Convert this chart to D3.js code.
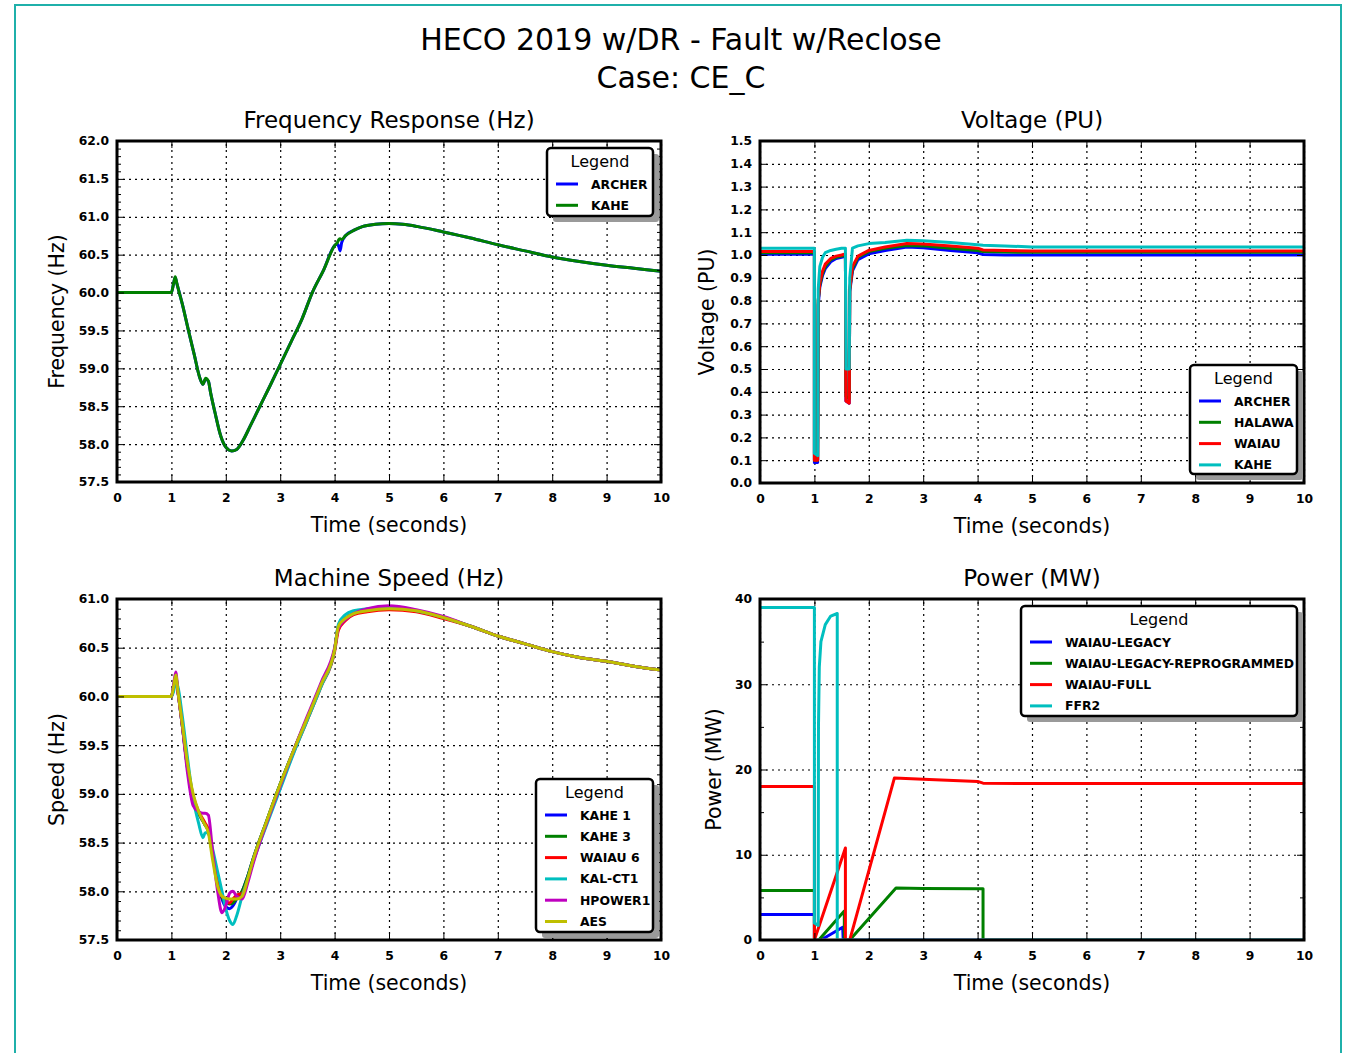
<!DOCTYPE html>
<html>
<head>
<meta charset="utf-8">
<script src="https://cdnjs.cloudflare.com/ajax/libs/d3/7.8.5/d3.min.js"></script>
<style>
body { margin: 0; background: #fff; }
text { font-family: "DejaVu Sans", sans-serif; fill: #000; }
.tick text { font-weight: bold; font-size: 12.3px; }
</style>
</head>
<body>
<svg id="chart" width="1347" height="1053"></svg>
<script>
// ---- data ----
var xTicks = [0, 1, 2, 3, 4, 5, 6, 7, 8, 9, 10];

// Frequency response (Hz)
var freqTime = [0, 1.0, 1.04, 1.07, 1.1, 1.2, 1.31, 1.42, 1.52, 1.58, 1.63, 1.68, 1.72, 1.8, 1.91, 2.0, 2.11, 2.2, 2.31, 2.45, 2.6, 2.8, 3.0, 3.2, 3.4, 3.59, 3.8, 4.0, 4.05, 4.08, 4.1, 4.13, 4.2, 4.35, 4.51, 4.75, 5.0, 5.25, 5.53, 6.0, 6.5, 7.0, 7.5, 8.0, 8.5, 9.0, 9.5, 10];
var freqArcher = [60, 60, 60.12, 60.2, 60.12, 59.85, 59.51, 59.18, 58.88, 58.79, 58.86, 58.83, 58.68, 58.42, 58.1, 57.96, 57.91, 57.93, 58.04, 58.24, 58.46, 58.75, 59.05, 59.35, 59.65, 60.0, 60.3, 60.62, 60.64, 60.6, 60.55, 60.66, 60.75, 60.82, 60.87, 60.9, 60.91, 60.9, 60.87, 60.8, 60.72, 60.63, 60.55, 60.47, 60.41, 60.36, 60.32, 60.28];
var freqKahe = [60, 60, 60.12, 60.21, 60.12, 59.85, 59.51, 59.18, 58.88, 58.79, 58.87, 58.83, 58.68, 58.42, 58.1, 57.96, 57.91, 57.93, 58.04, 58.24, 58.46, 58.75, 59.05, 59.35, 59.65, 60.0, 60.3, 60.62, 60.66, 60.7, 60.71, 60.7, 60.75, 60.82, 60.87, 60.9, 60.91, 60.9, 60.87, 60.8, 60.72, 60.63, 60.55, 60.47, 60.41, 60.36, 60.32, 60.28];
var freqTicks = [57.5, 58.0, 58.5, 59.0, 59.5, 60.0, 60.5, 61.0, 61.5, 62.0];

// Voltage (PU)
var voltTime = [0, 1.0, 1.0, 1.06, 1.07, 1.1, 1.15, 1.2, 1.3, 1.4, 1.5, 1.57, 1.58, 1.64, 1.65, 1.7, 1.8, 2.0, 2.3, 2.7, 3.0, 3.5, 4.0, 4.1, 4.5, 5.0, 6.0, 8.0, 10];
var voltArcher = [1.003, 1.003, 0.09, 0.09, 0.78, 0.86, 0.91, 0.94, 0.97, 0.985, 0.99, 0.995, 0.36, 0.35, 0.84, 0.93, 0.98, 1.005, 1.02, 1.035, 1.032, 1.02, 1.01, 1.002, 1.0, 1.0, 1.0, 1.0, 1.0];
var voltHalawa = [1.01, 1.01, 0.1, 0.1, 0.8, 0.87, 0.92, 0.95, 0.98, 0.99, 0.995, 1.0, 0.38, 0.37, 0.85, 0.94, 0.99, 1.015, 1.03, 1.042, 1.04, 1.03, 1.02, 1.015, 1.013, 1.012, 1.012, 1.012, 1.012];
var voltWaiau = [1.015, 1.015, 0.1, 0.1, 0.8, 0.88, 0.93, 0.96, 0.985, 0.995, 1.0, 1.005, 0.36, 0.35, 0.85, 0.95, 0.995, 1.02, 1.035, 1.05, 1.048, 1.04, 1.03, 1.022, 1.02, 1.018, 1.018, 1.018, 1.018];
var voltKahe = [1.03, 1.03, 0.13, 0.12, 0.85, 0.95, 0.99, 1.01, 1.02, 1.025, 1.03, 1.03, 0.5, 0.5, 0.9, 1.03, 1.04, 1.05, 1.055, 1.065, 1.062, 1.055, 1.045, 1.043, 1.04, 1.035, 1.035, 1.035, 1.035];
var voltTicks = [0.0, 0.1, 0.2, 0.3, 0.4, 0.5, 0.6, 0.7, 0.8, 0.9, 1.0, 1.1, 1.2, 1.3, 1.4, 1.5];

// Machine speed (Hz)
var speedTime = [0, 1.0, 1.04, 1.08, 1.12, 1.2, 1.3, 1.4, 1.5, 1.58, 1.62, 1.68, 1.75, 1.85, 1.93, 2.0, 2.07, 2.13, 2.2, 2.3, 2.4, 2.5, 2.75, 3.0, 3.25, 3.5, 3.75, 4.0, 4.07, 4.2, 4.35, 4.6, 5.0, 5.5, 6.0, 6.5, 7.0, 7.5, 8.0, 8.5, 9.0, 9.5, 10];
var speedKahe1 = [60, 60, 60.1, 60.2, 60.05, 59.7, 59.25, 58.95, 58.8, 58.72, 58.68, 58.62, 58.4, 58.1, 57.92, 57.84, 57.82, 57.85, 57.92, 58.0, 58.15, 58.33, 58.72, 59.1, 59.45, 59.78, 60.12, 60.48, 60.72, 60.8, 60.85, 60.88, 60.91, 60.88, 60.81, 60.72, 60.62, 60.54, 60.46, 60.4, 60.36, 60.31, 60.27];
var speedKahe3 = [60, 60, 60.1, 60.2, 60.05, 59.7, 59.25, 58.95, 58.8, 58.72, 58.68, 58.62, 58.4, 58.1, 57.94, 57.88, 57.87, 57.88, 57.93, 58.0, 58.15, 58.33, 58.72, 59.1, 59.45, 59.78, 60.12, 60.48, 60.72, 60.8, 60.85, 60.88, 60.91, 60.88, 60.81, 60.72, 60.62, 60.54, 60.46, 60.4, 60.36, 60.31, 60.27];
var speedWaiau6 = [60, 60, 60.08, 60.18, 60.05, 59.72, 59.28, 58.98, 58.82, 58.74, 58.7, 58.63, 58.42, 58.12, 57.95, 57.9, 57.88, 57.92, 57.96, 57.98, 58.12, 58.3, 58.7, 59.08, 59.43, 59.76, 60.1, 60.46, 60.68, 60.78, 60.84, 60.87, 60.89, 60.87, 60.8, 60.72, 60.62, 60.54, 60.46, 60.4, 60.36, 60.31, 60.27];
var speedKalCt1 = [60, 60, 60.05, 60.15, 60.1, 59.8, 59.35, 58.95, 58.7, 58.55, 58.6, 58.6, 58.45, 58.2, 58.0, 57.82, 57.7, 57.66, 57.75, 57.95, 58.12, 58.3, 58.68, 59.05, 59.42, 59.76, 60.1, 60.48, 60.74, 60.84, 60.88, 60.9, 60.92, 60.88, 60.81, 60.72, 60.62, 60.54, 60.46, 60.4, 60.36, 60.31, 60.27];
var speedHpower1 = [60, 60, 60.12, 60.25, 60.05, 59.7, 59.2, 58.88, 58.82, 58.8, 58.8, 58.78, 58.45, 58.0, 57.78, 57.85, 57.98, 58.0, 57.95, 57.92, 58.08, 58.28, 58.7, 59.08, 59.45, 59.8, 60.14, 60.5, 60.7, 60.79, 60.85, 60.9, 60.93, 60.89, 60.82, 60.72, 60.62, 60.54, 60.46, 60.4, 60.36, 60.31, 60.27];
var speedAes = [60, 60, 60.1, 60.22, 60.05, 59.72, 59.3, 59.0, 58.82, 58.72, 58.68, 58.6, 58.35, 58.05, 57.95, 57.93, 57.92, 57.92, 57.92, 57.95, 58.12, 58.32, 58.72, 59.1, 59.45, 59.78, 60.12, 60.48, 60.72, 60.8, 60.85, 60.88, 60.9, 60.88, 60.81, 60.72, 60.62, 60.54, 60.46, 60.4, 60.36, 60.31, 60.27];
var speedTicks = [57.5, 58.0, 58.5, 59.0, 59.5, 60.0, 60.5, 61.0];

// Power (MW)
var legacyTime = [0, 1.0, 1.0, 1.12, 1.52, 1.53, 10];
var legacyVal = [3, 3, 0, 0, 1.5, 0, 0];
var reprogTime = [0, 1.0, 1.0, 1.08, 1.55, 1.55, 1.65, 2.5, 3.0, 4.0, 4.1, 4.1, 10];
var reprogVal = [5.8, 5.8, 0, 0, 3.4, 0, 0, 6.1, 6.05, 6.0, 6.0, 0, 0];
var fullTime = [0, 1.0, 1.0, 1.57, 1.57, 1.65, 2.47, 3.0, 4.0, 4.1, 5.0, 10];
var fullVal = [18, 18, 0, 10.8, 0, 0, 19.0, 18.85, 18.6, 18.4, 18.35, 18.35];
var ffrTime = [0, 1.0, 1.0, 1.07, 1.075, 1.09, 1.12, 1.2, 1.3, 1.42, 1.42, 10];
var ffrVal = [39, 39, 2.0, 1.7, 25, 32, 35, 37, 38, 38.3, 0, 0];
var powerTicks = [0, 10, 20, 30, 40];

// ---- drawing ----
var svg = d3.select("#chart");

svg.append("rect")
  .attr("x", 15).attr("y", 5)
  .attr("width", 1326).attr("height", 1070)
  .attr("fill", "none").attr("stroke", "#1fb0aa").attr("stroke-width", 2);

svg.append("text").attr("x", 681).attr("y", 50).attr("text-anchor", "middle")
  .style("font-size", "30px").text("HECO 2019 w/DR - Fault w/Reclose");
svg.append("text").attr("x", 681).attr("y", 88).attr("text-anchor", "middle")
  .style("font-size", "30px").text("Case: CE_C");

function zip(t, v) {
  return t.map(function(d, i) { return [d, v[i]]; });
}

var clipId = 0;

function panel(c) {
  var w = c.right - c.left, h = c.bottom - c.top;
  var x = d3.scaleLinear().domain([0, 10]).range([0, w]);
  var y = d3.scaleLinear().domain(c.yDomain).range([h, 0]);

  var g = svg.append("g").attr("transform", "translate(" + c.left + "," + c.top + ")");
  var id = "clip" + (clipId++);
  // keep lines sitting on zero hidden under the frame
  g.append("clipPath").attr("id", id).append("rect").attr("width", w).attr("height", h - 1.5);

  // grid
  g.append("g").attr("transform", "translate(0," + h + ")")
    .call(d3.axisBottom(x).tickValues(xTicks).tickSize(-h).tickFormat(""))
    .call(function(s) { s.select(".domain").remove(); })
    .selectAll("line").attr("stroke", "#000").attr("stroke-dasharray", "2,4").attr("stroke-width", 1.2);
  g.append("g")
    .call(d3.axisLeft(y).tickValues(c.yTicks).tickSize(-w).tickFormat(""))
    .call(function(s) { s.select(".domain").remove(); })
    .selectAll("line").attr("stroke", "#000").attr("stroke-dasharray", "2,4").attr("stroke-width", 1.2);

  // lines
  var line = d3.line().curve(c.curve || d3.curveLinear)
    .x(function(d) { return x(d[0]); }).y(function(d) { return y(d[1]); });
  var lg = g.append("g").attr("clip-path", "url(#" + id + ")");
  c.series.forEach(function(s) {
    lg.append("path").datum(zip(s.t, s.v))
      .attr("fill", "none").attr("stroke", s.color).attr("stroke-width", 3)
      .attr("stroke-linejoin", "round").attr("d", line);
  });

  // ticks, inward on all four sides
  function clean(s) { s.select(".domain").remove(); s.selectAll("line").attr("stroke", "#000"); }
  g.append("g").attr("transform", "translate(0," + h + ")")
    .call(d3.axisBottom(x).tickValues(xTicks).tickSize(-7).tickPadding(11).tickFormat(d3.format("d")))
    .call(clean);
  g.append("g")
    .call(d3.axisTop(x).tickValues(xTicks).tickSize(-7).tickFormat(""))
    .call(clean);
  g.append("g")
    .call(d3.axisLeft(y).tickValues(c.yTicks).tickSize(-7).tickPadding(8).tickFormat(c.fmt))
    .call(clean);
  g.append("g").attr("transform", "translate(" + w + ",0)")
    .call(d3.axisRight(y).tickValues(c.yTicks).tickSize(-7).tickFormat(""))
    .call(clean);
  if (c.minor) {
    g.append("g")
      .call(d3.axisLeft(y).tickValues(c.minor).tickSize(-4).tickFormat(""))
      .call(clean);
    g.append("g").attr("transform", "translate(" + w + ",0)")
      .call(d3.axisRight(y).tickValues(c.minor).tickSize(-4).tickFormat(""))
      .call(clean);
  }

  g.append("rect").attr("width", w).attr("height", h)
    .attr("fill", "none").attr("stroke", "#000").attr("stroke-width", 3);

  // titles
  g.append("text").attr("x", w / 2).attr("y", -13).attr("text-anchor", "middle")
    .style("font-size", "23px").text(c.title);
  g.append("text").attr("x", w / 2).attr("y", h + 50).attr("text-anchor", "middle")
    .style("font-size", "20.5px").text("Time (seconds)");
  g.append("text")
    .attr("transform", "translate(" + (c.ylabelX - c.left) + "," + (h / 2) + ") rotate(-90)")
    .attr("text-anchor", "middle").style("font-size", "20.5px").text(c.ylabel);

  // legend
  var L = c.legend;
  var lgd = svg.append("g");
  lgd.append("rect").attr("x", L.x + 6).attr("y", L.y + 6).attr("width", L.w).attr("height", L.h)
    .attr("rx", 3).attr("fill", "#9a9a9a");
  lgd.append("rect").attr("x", L.x).attr("y", L.y).attr("width", L.w).attr("height", L.h)
    .attr("rx", 4).attr("fill", "#fff").attr("stroke", "#000").attr("stroke-width", 2.5);
  lgd.append("text").attr("x", L.x + L.w / 2).attr("y", L.y + 19).attr("text-anchor", "middle")
    .style("font-size", "16px").text("Legend");
  c.series.forEach(function(s, i) {
    var yy = L.y + 36 + i * 21.3;
    lgd.append("line").attr("x1", L.x + 9).attr("x2", L.x + 31).attr("y1", yy).attr("y2", yy)
      .attr("stroke", s.color).attr("stroke-width", 3);
    lgd.append("text").attr("x", L.x + 44).attr("y", yy + 4.5)
      .style("font-size", "12.4px").style("font-weight", "bold").text(s.name);
  });
}

var blue = "#0000ff", green = "#008000", red = "#ff0000", cyan = "#00bfbf",
    magenta = "#bf00bf", yellow = "#bfbf00";

panel({
  left: 117, right: 661, top: 141, bottom: 482,
  yDomain: [57.5, 62.0], yTicks: freqTicks, fmt: d3.format(".1f"),
  minor: d3.range(57.6, 62.0, 0.1).filter(function(v) { return Math.abs(v * 2 - Math.round(v * 2)) > 0.01; }),
  title: "Frequency Response (Hz)", ylabel: "Frequency (Hz)", ylabelX: 64,
  curve: d3.curveMonotoneX,
  series: [
    {name: "ARCHER", t: freqTime, v: freqArcher, color: blue},
    {name: "KAHE", t: freqTime, v: freqKahe, color: green}
  ],
  legend: {x: 547, y: 148, w: 106, h: 68}
});

panel({
  left: 760, right: 1304, top: 141, bottom: 483,
  yDomain: [0, 1.5], yTicks: voltTicks, fmt: d3.format(".1f"),
  title: "Voltage (PU)", ylabel: "Voltage (PU)", ylabelX: 714,
  series: [
    {name: "ARCHER", t: voltTime, v: voltArcher, color: blue},
    {name: "HALAWA", t: voltTime, v: voltHalawa, color: green},
    {name: "WAIAU", t: voltTime, v: voltWaiau, color: red},
    {name: "KAHE", t: voltTime, v: voltKahe, color: cyan}
  ],
  legend: {x: 1190, y: 365, w: 107, h: 109}
});

panel({
  left: 117, right: 661, top: 599, bottom: 940,
  yDomain: [57.5, 61.0], yTicks: speedTicks, fmt: d3.format(".1f"),
  minor: d3.range(57.6, 61.0, 0.1).filter(function(v) { return Math.abs(v * 2 - Math.round(v * 2)) > 0.01; }),
  title: "Machine Speed (Hz)", ylabel: "Speed (Hz)", ylabelX: 64,
  curve: d3.curveMonotoneX,
  series: [
    {name: "KAHE 1", t: speedTime, v: speedKahe1, color: blue},
    {name: "KAHE 3", t: speedTime, v: speedKahe3, color: green},
    {name: "WAIAU 6", t: speedTime, v: speedWaiau6, color: red},
    {name: "KAL-CT1", t: speedTime, v: speedKalCt1, color: cyan},
    {name: "HPOWER1", t: speedTime, v: speedHpower1, color: magenta},
    {name: "AES", t: speedTime, v: speedAes, color: yellow}
  ],
  legend: {x: 536, y: 779, w: 117, h: 153}
});

panel({
  left: 760, right: 1304, top: 599, bottom: 940,
  yDomain: [0, 40], yTicks: powerTicks, fmt: d3.format("d"),
  minor: [5, 15, 25, 35],
  title: "Power (MW)", ylabel: "Power (MW)", ylabelX: 721,
  series: [
    {name: "WAIAU-LEGACY", t: legacyTime, v: legacyVal, color: blue},
    {name: "WAIAU-LEGACY-REPROGRAMMED", t: reprogTime, v: reprogVal, color: green},
    {name: "WAIAU-FULL", t: fullTime, v: fullVal, color: red},
    {name: "FFR2", t: ffrTime, v: ffrVal, color: cyan}
  ],
  legend: {x: 1021, y: 606, w: 276, h: 110}
});
</script>
</body>
</html>
